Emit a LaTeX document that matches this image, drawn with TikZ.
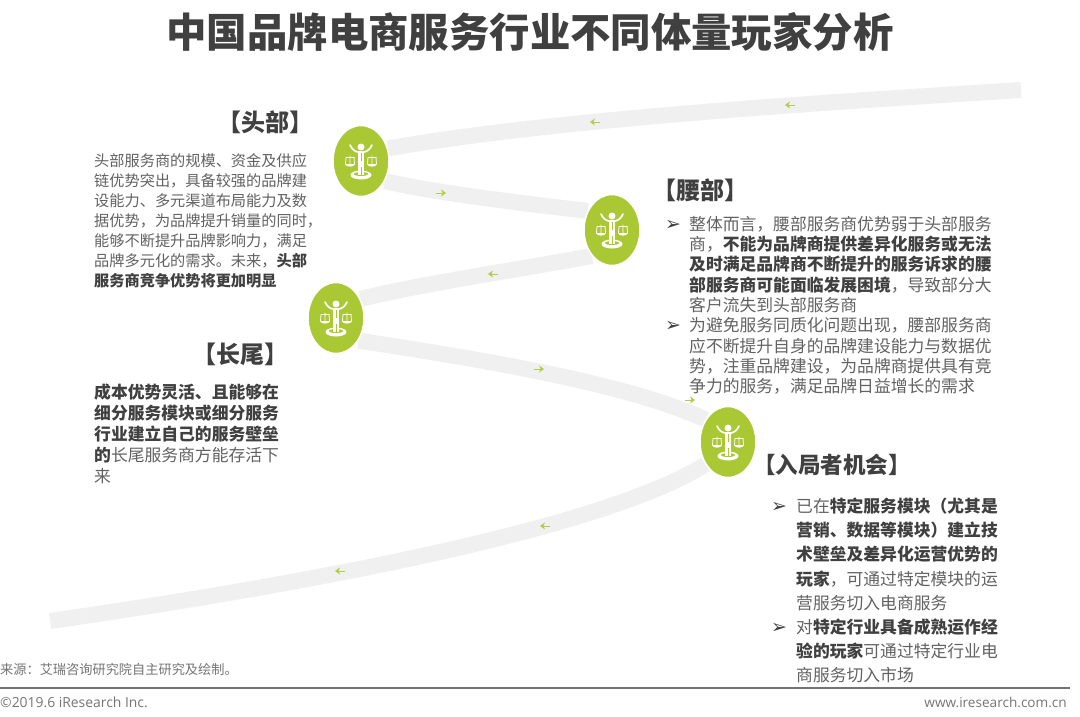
\documentclass[tikz,border=0pt]{standalone}
\usepackage{fontspec}
\setmainfont{Noto Sans CJK SC}
\newfontfamily\latinf{Open Sans}
\newfontfamily\bulletf{DejaVu Sans}
\usetikzlibrary{shapes.geometric,arrows.meta,backgrounds}
\definecolor{leaf}{HTML}{A9C834}
\definecolor{bandgray}{HTML}{F0F0F0}
\definecolor{ink}{HTML}{626262}
\definecolor{headc}{HTML}{404040}
\definecolor{footc}{HTML}{757575}
\newcommand{\bd}[1]{{\bfseries\color{headc}#1}}
\newcommand{\bul}{{\bulletf\color{headc}\fontsize{19}{19}\selectfont ➢}}
\tikzset{
  x=1pt,y=-1pt,
  hub/.style={ellipse,fill=leaf,draw=white,line width=1.5pt,minimum width=56pt,minimum height=71pt,inner sep=0pt},
  band/.style={draw=bandgray,line width=16pt},
  heading/.style={font=\fontsize{24}{28}\selectfont\bfseries,text=headc,inner sep=0pt,anchor=center},
  para/.style={anchor=north west,inner sep=0pt,align=left,text=ink},
  flowline/.style={draw=leaf!90!white,line width=1pt,-{Stealth[length=5pt,width=7pt]}},
  pics/balance/.style={code={
    \fill[white] (0,-14) circle (3.5);
    \draw[white,line width=1.7pt,line cap=round] (-11,-16) .. controls (-9,-11.5) and (-6,-9.5) .. (-3,-9) -- (3,-9) .. controls (6,-9.5) and (9,-11.5) .. (11,-16);
    \fill[white] (0,14) ellipse (10.5 and 4.5);
    \fill[leaf] (0,13) ellipse (7 and 2);
    \fill[white] (-3.2,-9.5) rectangle (3.2,14);
    \draw[leaf,line width=.6pt] (0,-8) -- (0,0) (0,6) -- (0,14);
    \foreach \sgn in {-1,1}{
      \draw[white,line width=.8pt] (\sgn*6.5,-3.5) -- (\sgn*15.5,-3.5) (\sgn*11,-5.5) -- (\sgn*11,5) (\sgn*7,-3.5) -- (\sgn*6.5,3) (\sgn*15,-3.5) -- (\sgn*15.5,3);
      \fill[white] (\sgn*6,3) -- (\sgn*16,3) .. controls (\sgn*15,6.5) and (\sgn*7,6.5) .. (\sgn*6,3) -- cycle;
    }
  }},
  pics/flowleft/.style={code={\draw[flowline] (5,0) -- (-5,0);}},
  pics/flowright/.style={code={\draw[flowline] (-5,0) -- (5,0);}}
}
\begin{document}
\begin{tikzpicture}
\useasboundingbox (0,0) rectangle (1080,716);
% hubs
\node[hub] (h1) at (361,161) {};
\node[hub] (h2) at (612,230) {};
\node[hub] (h3) at (336,318) {};
\node[hub] (h4) at (728,442) {};
\coordinate (startend) at (1021,90);
\coordinate (tailend) at (50,621);
\begin{scope}[on background layer]
  \fill[white] (0,0) rectangle (1080,716);
  \draw[band] (startend) .. controls (850,101) and (560,118) .. (h1.25);
  \draw[band] (h1.-40) .. controls (430,192) and (520,203) .. (h2.142);
  \draw[band] (h2.232) .. controls (530,268) and (430,282) .. (h3.38);
  \draw[band] (h3.-45) .. controls (450,355) and (620,380) .. (h4.135);
  \draw[band] (h4.225) .. controls (600,530) and (300,585) .. (tailend);
\end{scope}
\pic at (h1) {balance};
\pic at (h2) {balance};
\pic at (h3) {balance};
\pic at (h4) {balance};
% small arrows
\pic at (790,105) {flowleft};
\pic at (595,122) {flowleft};
\pic at (441,193) {flowright};
\pic at (493,274) {flowleft};
\pic at (539,369) {flowright};
\pic at (690,400) {flowright};
\pic at (545,526) {flowleft};
\pic at (340,571) {flowleft};
% title
\node[font=\fontsize{40.4}{46}\selectfont\bfseries,text=headc,inner sep=0pt] (title) at (530,32) {中国品牌电商服务行业不同体量玩家分析};
% headings
\node[heading] (hd1) at (265,122) {【头部】};
\node[heading] (hd2) at (700,190) {【腰部】};
\node[heading] (hd3) at (240,354) {【长尾】};
\node[heading,font=\fontsize{22.5}{28}\selectfont\bfseries] (hd4) at (832,465) {【入局者机会】};
% left top text
\node[para,font=\fontsize{15.2}{20}\selectfont] (t1) at (94,153) {头部服务商的规模、资金及供应\\链优势突出，具备较强的品牌建\\设能力、多元渠道布局能力及数\\据优势，为品牌提升销量的同时，\\能够不断提升品牌影响力，满足\\品牌多元化的需求。未来，\bd{头部}\\\bd{服务商竞争优势将更加明显}};
% left lower text
\node[para,font=\fontsize{16.8}{21}\selectfont] (t3) at (94,384) {\bd{成本优势灵活、且能够在}\\\bd{细分服务模块或细分服务}\\\bd{行业建立自己的服务壁垒}\\\bd{的}长尾服务商方能存活下\\来};
% middle right
\node[para,font=\fontsize{16.8}{20.3}\selectfont] (t2) at (689,216) {整体而言，腰部服务商优势弱于头部服务\\商，\bd{不能为品牌商提供差异化服务或无法}\\\bd{及时满足品牌商不断提升的服务诉求的腰}\\\bd{部服务商可能面临发展困境}，导致部分大\\客户流失到头部服务商\\为避免服务同质化问题出现，腰部服务商\\应不断提升自身的品牌建设能力与数据优\\势，注重品牌建设，为品牌商提供具有竞\\争力的服务，满足品牌日益增长的需求};
\node[inner sep=0pt] (b1) at (673,225) {\bul};
\node[inner sep=0pt] (b2) at (673,326) {\bul};
% lower right
\node[para,font=\fontsize{16.8}{24.1}\selectfont] (t4) at (796,498) {已在\bd{特定服务模块（尤其是}\\\bd{营销、数据等模块）建立技}\\\bd{术壁垒及差异化运营优势的}\\\bd{玩家}，可通过特定模块的运\\营服务切入电商服务\\对\bd{特定行业具备成熟运作经}\\\bd{验的玩家}可通过特定行业电\\商服务切入市场};
\node[inner sep=0pt] (b3) at (779,507) {\bul};
\node[inner sep=0pt] (b4) at (779,628) {\bul};
% footer
\node[anchor=west,inner sep=0pt,text=footc,font=\fontsize{13.2}{16}\selectfont] (src) at (0,669) {来源：艾瑞咨询研究院自主研究及绘制。};
\coordinate (ruleA) at (0,688);
\coordinate (ruleB) at (1070,688);
\draw[draw=black!55,line width=1.2pt] (ruleA) -- (ruleB);
\node[anchor=west,inner sep=0pt,text=footc,font=\latinf\fontsize{13.9}{16}\selectfont] (copy) at (0,702) {©2019.6 iResearch Inc.};
\node[anchor=east,inner sep=0pt,text=footc,font=\latinf\fontsize{13.6}{16}\selectfont] (web) at (1067,702) {www.iresearch.com.cn};
\end{tikzpicture}
\end{document}
